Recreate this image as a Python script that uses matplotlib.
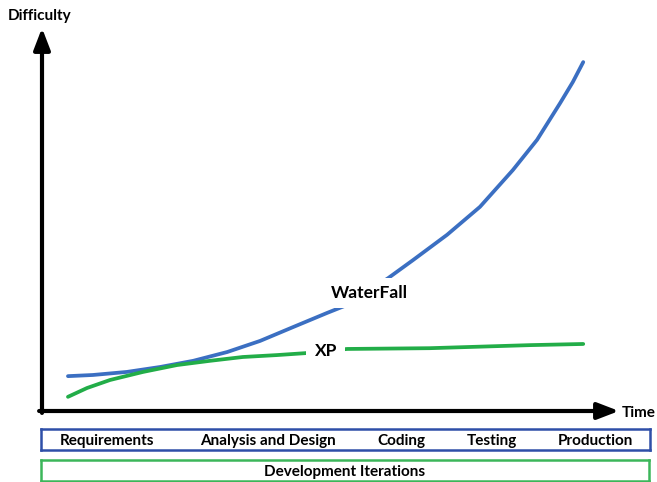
import matplotlib
matplotlib.use("Agg")
import matplotlib.pyplot as plt

plt.rcParams['font.family'] = ['Lato', 'DejaVu Sans']

# curve values (time 0-10, difficulty 0-10)
waterfall_time = [0.45, 0.88, 1.47, 2.05, 2.62, 3.21, 3.78, 4.35, 4.94, 5.29,
                  6.00, 6.43, 7.02, 7.59, 8.16, 8.58, 8.98, 9.20, 9.38]
waterfall_diff = [0.91, 0.94, 1.02, 1.15, 1.31, 1.54, 1.83, 2.19, 2.56, 2.77,
                  3.47, 3.94, 4.60, 5.33, 6.29, 7.08, 8.04, 8.59, 9.11]

xp_time = [0.45, 0.78, 1.18, 1.75, 2.34, 2.91, 3.48, 4.07, 4.56, 5.29, 6.72, 8.46, 9.38]
xp_diff = [0.37, 0.60, 0.81, 1.02, 1.20, 1.31, 1.41, 1.46, 1.51, 1.62, 1.64, 1.72, 1.75]

phases = ['Requirements', 'Analysis and Design', 'Coding', 'Testing', 'Production']
iteration_label = 'Development Iterations'

W, H = 657, 482
fig = plt.figure(figsize=(W / 100, H / 100), dpi=100)

# main chart area, origin at the corner of the two arrows
ax = fig.add_axes([42 / W, 71 / H, 577 / W, 383 / H])
ax.set_xlim(0, 10)
ax.set_ylim(0, 10)
ax.axis('off')

line_kw = dict(lw=2.7, solid_capstyle='round', solid_joinstyle='round')
ax.plot(waterfall_time, waterfall_diff, color='#3b6fc2', zorder=2, **line_kw)
ax.plot(xp_time, xp_diff, color='#22ad48', zorder=3, **line_kw)

ax.text(5.67, 3.08, 'WaterFall', fontsize=12.5, fontweight='bold', ha='center', va='center',
        bbox=dict(facecolor='white', edgecolor='none', pad=5), zorder=4)
ax.text(4.92, 1.57, 'XP', fontsize=12.5, fontweight='bold', ha='center', va='center',
        bbox=dict(facecolor='white', edgecolor='none', pad=6), zorder=4)

# axis arrows
arrow = dict(arrowstyle='-|>,head_length=1.3,head_width=0.5', color='black', lw=3, shrinkA=0, shrinkB=0)
ax.annotate('', xy=(10, 0), xytext=(-0.05, 0), arrowprops=arrow, annotation_clip=False)
ax.annotate('', xy=(0, 10), xytext=(0, -0.05), arrowprops=arrow, annotation_clip=False)
ax.text(10.05, -0.05, 'Time', fontsize=11, fontweight='bold', ha='left', va='center')
ax.text(-0.05, 10.12, 'Difficulty', fontsize=11, fontweight='bold', ha='center', va='bottom')

# phase strip
ax_ph = fig.add_axes([41 / W, 32 / H, 609 / W, 21 / H])
ax_ph.set_xlim(0, 1)
ax_ph.set_ylim(0, 1)
ax_ph.set_xticks([])
ax_ph.set_yticks([])
for s in ax_ph.spines.values():
    s.set_color('#2e4fa8')
    s.set_linewidth(1.8)
phase_pos = [0.109, 0.372, 0.592, 0.740, 0.910]
for name, px in zip(phases, phase_pos):
    ax_ph.text(px, 0.45, name, fontsize=11, fontweight='bold', ha='center', va='center')

# iterations strip
ax_it = fig.add_axes([41 / W, 1 / H, 608 / W, 21 / H])
ax_it.set_xlim(0, 1)
ax_it.set_ylim(0, 1)
ax_it.set_xticks([])
ax_it.set_yticks([])
for s in ax_it.spines.values():
    s.set_color('#3cb65a')
    s.set_linewidth(1.8)
ax_it.text(0.5, 0.45, iteration_label, fontsize=11, fontweight='bold', ha='center', va='center')

fig.savefig('out.png', dpi=100)
